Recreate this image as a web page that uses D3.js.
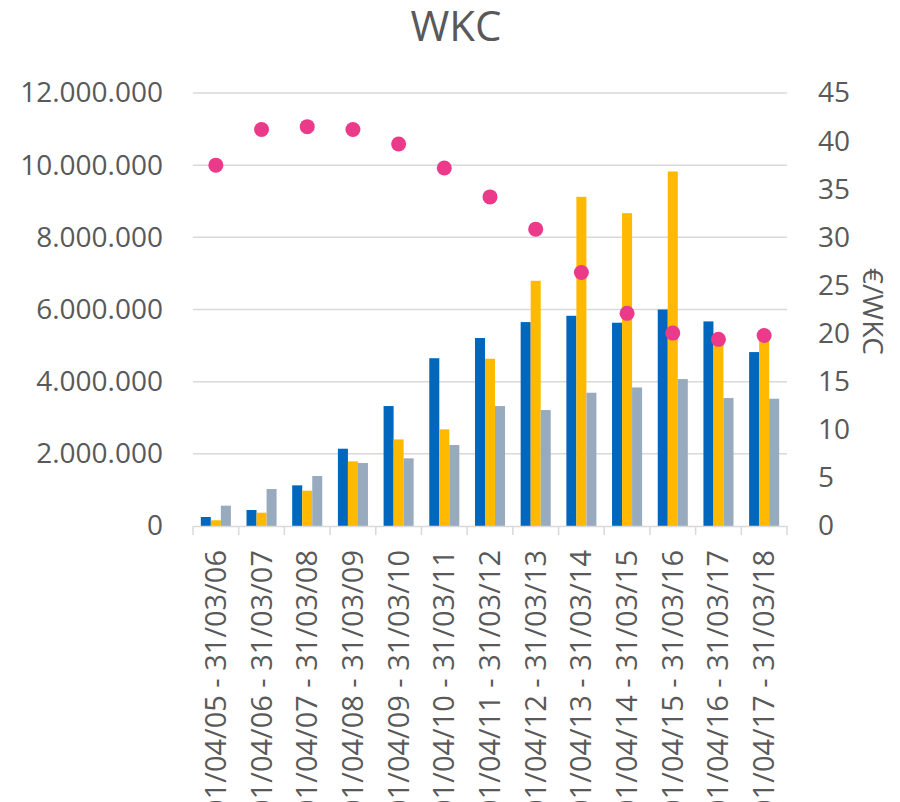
<!DOCTYPE html>
<html>
<head>
<meta charset="utf-8">
<script src="https://cdn.jsdelivr.net/npm/d3@7"></script>
<style>
  html, body { margin: 0; padding: 0; background: #fff; overflow: hidden; }
  svg { display: block; font-family: "Open Sans", "Noto Sans", sans-serif; }
</style>
</head>
<body>
<svg id="chart" width="900" height="802"></svg>
<script>
// Financial years
const periods = [
  "01/04/05 - 31/03/06", "01/04/06 - 31/03/07", "01/04/07 - 31/03/08",
  "01/04/08 - 31/03/09", "01/04/09 - 31/03/10", "01/04/10 - 31/03/11",
  "01/04/11 - 31/03/12", "01/04/12 - 31/03/13", "01/04/13 - 31/03/14",
  "01/04/14 - 31/03/15", "01/04/15 - 31/03/16", "01/04/16 - 31/03/17",
  "01/04/17 - 31/03/18"
];

// Volume series (left axis)
const seriesA = [249000, 443000, 1127000, 2142000, 3324000, 4650000, 5210000, 5651000, 5826000, 5633000, 6000000, 5670000, 4820000];
const seriesB = [158000, 369000, 978000, 1792000, 2400000, 2678000, 4635000, 6796000, 9123000, 8670000, 9825000, 5150000, 5200000];
const seriesC = [563000, 1025000, 1385000, 1745000, 1875000, 2244000, 3324000, 3213000, 3693000, 3840000, 4072000, 3546000, 3527000];

// Price per WKC (right axis)
const price = [37.5, 41.2, 41.5, 41.2, 39.7, 37.2, 34.2, 30.85, 26.35, 22.1, 20.05, 19.4, 19.8];

const leftTicks = [0, 2000000, 4000000, 6000000, 8000000, 10000000, 12000000];
const rightTicks = [0, 5, 10, 15, 20, 25, 30, 35, 40, 45];

const seriesColors = ["#0067BC", "#FFB900", "#98AABE"];
const dotColor = "#EC3A8A";
const textColor = "#595959";
const gridColor = "#D9D9D9";

const svg = d3.select("#chart");
const m = { left: 193, right: 787, top: 93, bottom: 526 };

const x = d3.scaleBand().domain(periods).range([m.left, m.right]).padding(0);
const bars = [seriesA, seriesB, seriesC];
const xs = d3.scaleBand().domain([0, 1, 2]).range([0, x.bandwidth()])
  .paddingInner(0).paddingOuter(0.78);
const yL = d3.scaleLinear().domain([0, 12000000]).range([m.bottom, m.top]);
const yR = d3.scaleLinear().domain([0, 45]).range([m.bottom, m.top]);

const fmt = v => d3.format(",")(v).replace(/,/g, ".");

// gridlines
svg.append("g").selectAll("line").data(leftTicks.slice(1)).join("line")
  .attr("x1", m.left).attr("x2", m.right)
  .attr("y1", d => yL(d)).attr("y2", d => yL(d))
  .attr("stroke", gridColor).attr("stroke-width", 1.5);

// bars
const groups = svg.append("g").selectAll("g").data(periods).join("g")
  .attr("transform", d => `translate(${x(d)},0)`);
groups.selectAll("rect").data((d, i) => bars.map((s, k) => ({ k, v: s[i] }))).join("rect")
  .attr("x", d => xs(d.k))
  .attr("width", xs.bandwidth())
  .attr("y", d => yL(d.v))
  .attr("height", d => yL(0) - yL(d.v))
  .attr("fill", d => seriesColors[d.k]);

// bottom axis
const xAxis = d3.axisBottom(x).tickSize(0).tickFormat("");
const gx = svg.append("g").attr("transform", `translate(0,${m.bottom})`).call(xAxis);
gx.select(".domain").attr("stroke", gridColor).attr("stroke-width", 1.5);
const boundaries = periods.map(p => x(p)).concat([m.right]);
svg.append("g").selectAll("line").data(boundaries).join("line")
  .attr("x1", d => d).attr("x2", d => d)
  .attr("y1", m.bottom).attr("y2", m.bottom + 9)
  .attr("stroke", gridColor).attr("stroke-width", 1.5);

svg.append("g").selectAll("text").data(periods).join("text")
  .attr("transform", d => `translate(${x(d) + x.bandwidth() / 2 + 10},${m.bottom + 24}) rotate(-90)`)
  .attr("text-anchor", "end")
  .attr("fill", textColor)
  .attr("font-size", 29)
  .text(d => d);

// left axis labels
const gl = svg.append("g").attr("transform", `translate(${m.left},0)`)
  .call(d3.axisLeft(yL).tickValues(leftTicks).tickFormat(fmt).tickSize(0).tickPadding(30));
gl.select(".domain").remove();
gl.selectAll("text").attr("fill", textColor).attr("font-size", 28)
  .attr("font-family", "'Open Sans', 'Noto Sans', sans-serif");

// right axis labels
const gr = svg.append("g").attr("transform", `translate(${m.right},0)`)
  .call(d3.axisRight(yR).tickValues(rightTicks).tickSize(0).tickPadding(31));
gr.select(".domain").remove();
gr.selectAll("text").attr("fill", textColor).attr("font-size", 28)
  .attr("font-family", "'Open Sans', 'Noto Sans', sans-serif");

// right axis title
svg.append("text")
  .attr("transform", `translate(863,${(m.top + m.bottom) / 2 + 2}) rotate(90)`)
  .attr("text-anchor", "middle")
  .attr("fill", textColor)
  .attr("font-size", 28)
  .text("€/WKC");

// price dots
svg.append("g").selectAll("circle").data(periods).join("circle")
  .attr("cx", d => x(d) + x.bandwidth() / 2)
  .attr("cy", (d, i) => yR(price[i]))
  .attr("r", 7.5)
  .attr("fill", dotColor);

// title
svg.append("text")
  .attr("x", 456).attr("y", 41)
  .attr("text-anchor", "middle")
  .attr("fill", textColor)
  .attr("font-size", 42)
  .text("WKC");
</script>
</body>
</html>
